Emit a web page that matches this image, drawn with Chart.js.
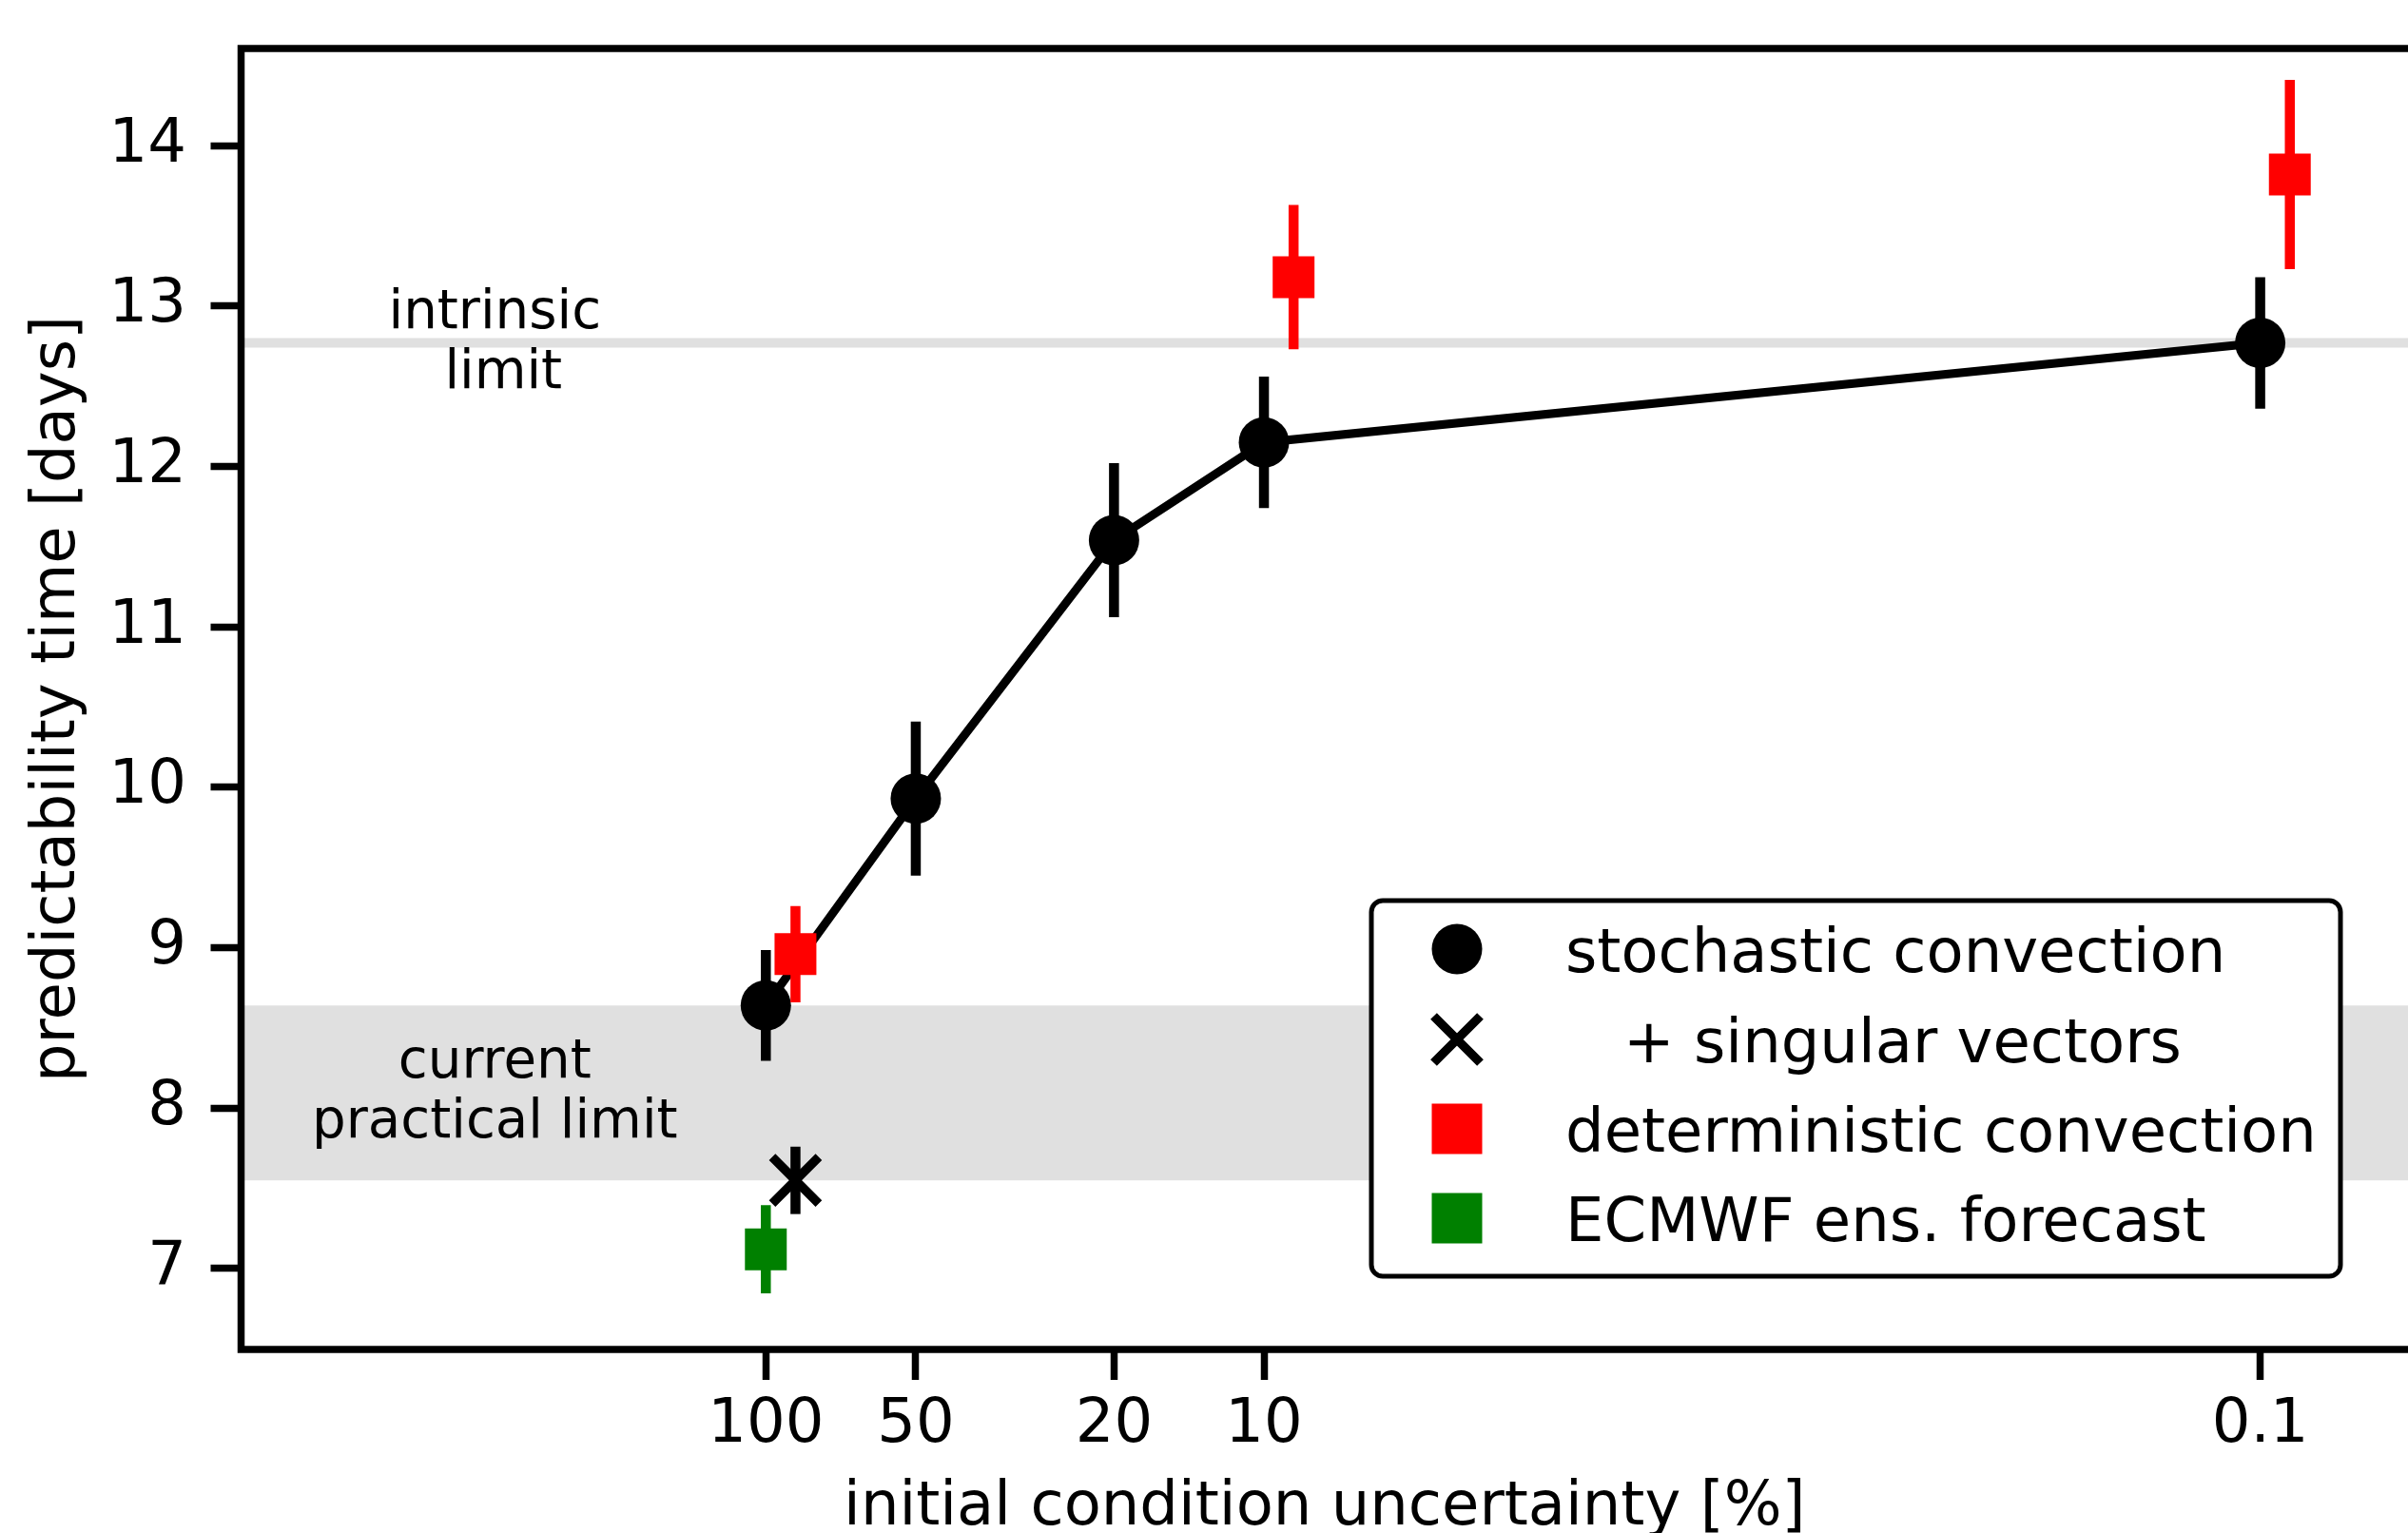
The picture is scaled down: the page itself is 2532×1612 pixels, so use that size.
<!DOCTYPE html>
<html>
<head>
<meta charset="utf-8">
<script src="https://cdn.jsdelivr.net/npm/chart.js@4.4.1/dist/chart.umd.min.js"></script>
<style>
html,body{margin:0;padding:0;background:#fff;overflow:hidden}
#wrap{width:2532px;height:1612px;position:relative}
</style>
</head>
<body>
<div id="wrap"><canvas id="c" width="2532" height="1612"></canvas></div>
<script>
// ---------- data ----------
const xTickValues = [100, 50, 20, 10, 0.1];
const xTickLabels = ['100', '50', '20', '10', '0.1'];
const yTickValues = [7, 8, 9, 10, 11, 12, 13, 14];

const stochasticX = [100, 50, 20, 10, 0.1];
const stochasticY = [8.64, 9.93, 11.54, 12.15, 12.77];
const stochasticErr = [0.345, 0.48, 0.48, 0.41, 0.41];

const singularX = [87.2];
const singularY = [7.55];
const singularErr = [0.21];

const deterministicX = [87.2, 8.72, 0.0872];
const deterministicY = [8.96, 13.18, 13.82];
const deterministicErr = [0.30, 0.45, 0.59];

const ecmwfX = [100];
const ecmwfY = [7.12];
const ecmwfErr = [0.275];

const intrinsicLimit = 12.77;
const practicalLimitRange = [7.55, 8.64];

const seriesLabels = ['stochastic convection', '   + singular vectors', 'deterministic convection', 'ECMWF ens. forecast'];
const intrinsicText = ['intrinsic', ' limit'];
const practicalText = ['current', 'practical limit'];

// ---------- style ----------
const FONT = 'DejaVu Sans';
const FS = 64;
const SPINE_W = 7.5;
const GRAY = '#e0e0e0';
const annotationX = 350;

function pts(xs, ys) { return xs.map((x, i) => ({ x: x, y: ys[i] })); }

function noPad(s) { s.paddingTop = 0; s.paddingBottom = 0; s.paddingLeft = 0; s.paddingRight = 0; }

const errorBars = {
  id: 'errorBars',
  beforeDatasetDraw(chart, args) {
    const ds = chart.data.datasets[args.index];
    if (!ds.errors) return;
    const { ctx, scales: { x, y } } = chart;
    ctx.save();
    ctx.strokeStyle = ds.errorColor;
    ctx.lineWidth = ds.errorWidth;
    ctx.lineCap = 'butt';
    ds.data.forEach((p, i) => {
      const px = x.getPixelForValue(p.x);
      ctx.beginPath();
      ctx.moveTo(px, y.getPixelForValue(p.y - ds.errors[i]));
      ctx.lineTo(px, y.getPixelForValue(p.y + ds.errors[i]));
      ctx.stroke();
    });
    ctx.restore();
  }
};

const background = {
  id: 'background',
  beforeDatasetsDraw(chart) {
    const { ctx, chartArea: a, scales: { x, y } } = chart;
    ctx.save();
    const yTop = y.getPixelForValue(practicalLimitRange[1]);
    const yBot = y.getPixelForValue(practicalLimitRange[0]);
    ctx.fillStyle = GRAY;
    ctx.fillRect(a.left, yTop, a.right - a.left, yBot - yTop);
    const yi = y.getPixelForValue(intrinsicLimit);
    ctx.strokeStyle = GRAY;
    ctx.lineWidth = 10;
    ctx.beginPath(); ctx.moveTo(a.left, yi); ctx.lineTo(a.right, yi); ctx.stroke();

    ctx.fillStyle = '#000';
    ctx.font = '56.25px "' + FONT + '"';
    ctx.textAlign = 'center';
    ctx.textBaseline = 'alphabetic';
    const blocks = [
      { lines: intrinsicText, yv: intrinsicLimit },
      { lines: practicalText, yv: (practicalLimitRange[0] + practicalLimitRange[1]) / 2 }
    ];
    const cx = x.getPixelForValue(annotationX);
    blocks.forEach(b => {
      const cy = y.getPixelForValue(b.yv);
      const n = b.lines.length;
      b.lines.forEach((t, k) => ctx.fillText(t, cx, cy + (k - (n - 1) / 2) * 63 + 15.5));
    });
    ctx.restore();
  }
};

const legendBox = {
  id: 'legendBox',
  afterDatasetsDraw(chart) {
    const { ctx, chartArea: a } = chart;
    const L = a.right - 1090, R = a.right - 71, T = a.bottom - 472, B = a.bottom - 77;
    ctx.save();
    const r = 12;
    ctx.beginPath();
    ctx.moveTo(L + r, T);
    ctx.lineTo(R - r, T); ctx.arcTo(R, T, R, T + r, r);
    ctx.lineTo(R, B - r); ctx.arcTo(R, B, R - r, B, r);
    ctx.lineTo(L + r, B); ctx.arcTo(L, B, L, B - r, r);
    ctx.lineTo(L, T + r); ctx.arcTo(L, T, L + r, T, r);
    ctx.closePath();
    ctx.fillStyle = '#fff'; ctx.fill();
    ctx.lineWidth = 5; ctx.strokeStyle = '#000'; ctx.stroke();

    const mx = L + 90, tx = L + 204;
    const rows = [T + 51, T + 146, T + 240, T + 334];
    const kinds = ['circle', 'x', 'red', 'green'];
    ctx.font = FS + 'px "' + FONT + '"';
    ctx.textAlign = 'left';
    ctx.textBaseline = 'alphabetic';
    rows.forEach((yy, i) => {
      const k = kinds[i];
      if (k === 'circle') {
        ctx.fillStyle = '#000';
        ctx.beginPath(); ctx.arc(mx, yy, 26.5, 0, Math.PI * 2); ctx.fill();
      } else if (k === 'x') {
        ctx.strokeStyle = '#000'; ctx.lineWidth = 9.5; ctx.lineCap = 'butt';
        ctx.beginPath();
        ctx.moveTo(mx - 24.5, yy - 24.5); ctx.lineTo(mx + 24.5, yy + 24.5);
        ctx.moveTo(mx - 24.5, yy + 24.5); ctx.lineTo(mx + 24.5, yy - 24.5);
        ctx.stroke();
      } else {
        ctx.fillStyle = k === 'red' ? '#ff0000' : '#008000';
        ctx.fillRect(mx - 26.5, yy - 26.5, 53, 53);
      }
      ctx.fillStyle = '#000';
      ctx.fillText(seriesLabels[i], tx, yy + 23.5);
    });
    ctx.restore();
  }
};

const spines = {
  id: 'spines',
  afterDraw(chart) {
    const { ctx, chartArea: a } = chart;
    const h = SPINE_W / 2;
    ctx.save();
    ctx.strokeStyle = '#000';
    ctx.lineWidth = SPINE_W;
    ctx.lineCap = 'butt';
    ctx.beginPath();
    ctx.moveTo(a.left, a.top - h); ctx.lineTo(a.left, a.bottom + h);
    ctx.moveTo(a.left - h, a.bottom); ctx.lineTo(a.right, a.bottom);
    ctx.moveTo(a.left - h, a.top); ctx.lineTo(a.right, a.top);
    ctx.stroke();
    ctx.restore();
  }
};

const tickFont = { family: FONT, size: FS };

new Chart(document.getElementById('c'), {
  type: 'scatter',
  data: {
    datasets: [
      {
        label: seriesLabels[3], data: pts(ecmwfX, ecmwfY),
        errors: ecmwfErr, errorColor: '#008000', errorWidth: 10.5,
        pointStyle: 'rect', pointRadius: 31.1, backgroundColor: '#008000', borderColor: '#008000',
        pointBorderWidth: 0, order: 1
      },
      {
        label: seriesLabels[1], data: pts(singularX, singularY),
        errors: singularErr, errorColor: '#000', errorWidth: 10.5,
        pointStyle: 'crossRot', pointRadius: 34.6, borderColor: '#000', backgroundColor: '#000',
        pointBorderWidth: 9.5, order: 2
      },
      {
        label: seriesLabels[2], data: pts(deterministicX, deterministicY),
        errors: deterministicErr, errorColor: '#ff0000', errorWidth: 10.5,
        pointStyle: 'rect', pointRadius: 31.1, backgroundColor: '#ff0000', borderColor: '#ff0000',
        pointBorderWidth: 0, order: 3
      },
      {
        label: seriesLabels[0], data: pts(stochasticX, stochasticY),
        errors: stochasticErr, errorColor: '#000', errorWidth: 10.5,
        showLine: true, borderColor: '#000', borderWidth: 9, tension: 0,
        pointStyle: 'circle', pointRadius: 26.5, pointBackgroundColor: '#000', pointBorderColor: '#000',
        pointBorderWidth: 0, order: 4
      }
    ]
  },
  options: {
    responsive: false,
    animation: false,
    events: [],
    devicePixelRatio: 1,
    layout: { autoPadding: false, padding: { top: 51, right: 0, bottom: 0, left: 0 } },
    plugins: { legend: { display: false }, tooltip: { enabled: false } },
    scales: {
      x: {
        type: 'logarithmic', reverse: true, min: 0.0505, max: 1131,
        afterBuildTicks: s => { s.ticks = xTickValues.map(v => ({ value: v })); },
        afterFit: s => { s.height = 193; noPad(s); },
        ticks: {
          callback: (v, i) => xTickLabels[i],
          font: tickFont, color: '#000', padding: 10, maxRotation: 0, autoSkip: false
        },
        grid: { display: true, drawOnChartArea: false, drawTicks: true, tickLength: 32, tickWidth: 7.5, tickColor: '#000' },
        border: { display: false },
        title: {
          display: true, text: 'initial condition uncertainty [%]', color: '#000',
          font: { family: FONT, size: FS, lineHeight: 0.8 }, padding: { top: 0, bottom: 0 }
        }
      },
      y: {
        type: 'linear', min: 6.496, max: 14.605,
        afterBuildTicks: s => { s.ticks = yTickValues.map(v => ({ value: v })); },
        afterFit: s => { s.width = 253.5; noPad(s); },
        ticks: { callback: v => String(v), font: tickFont, color: '#000', padding: 25.5, autoSkip: false },
        grid: { display: true, drawOnChartArea: false, drawTicks: true, tickLength: 32, tickWidth: 7.5, tickColor: '#000' },
        border: { display: false },
        title: {
          display: true, text: 'predictability time [days]', color: '#000',
          font: { family: FONT, size: FS, lineHeight: 1.2 }, padding: { top: 22.5, bottom: 0 }
        }
      }
    }
  },
  plugins: [background, errorBars, legendBox, spines]
});
</script>
</body>
</html>
